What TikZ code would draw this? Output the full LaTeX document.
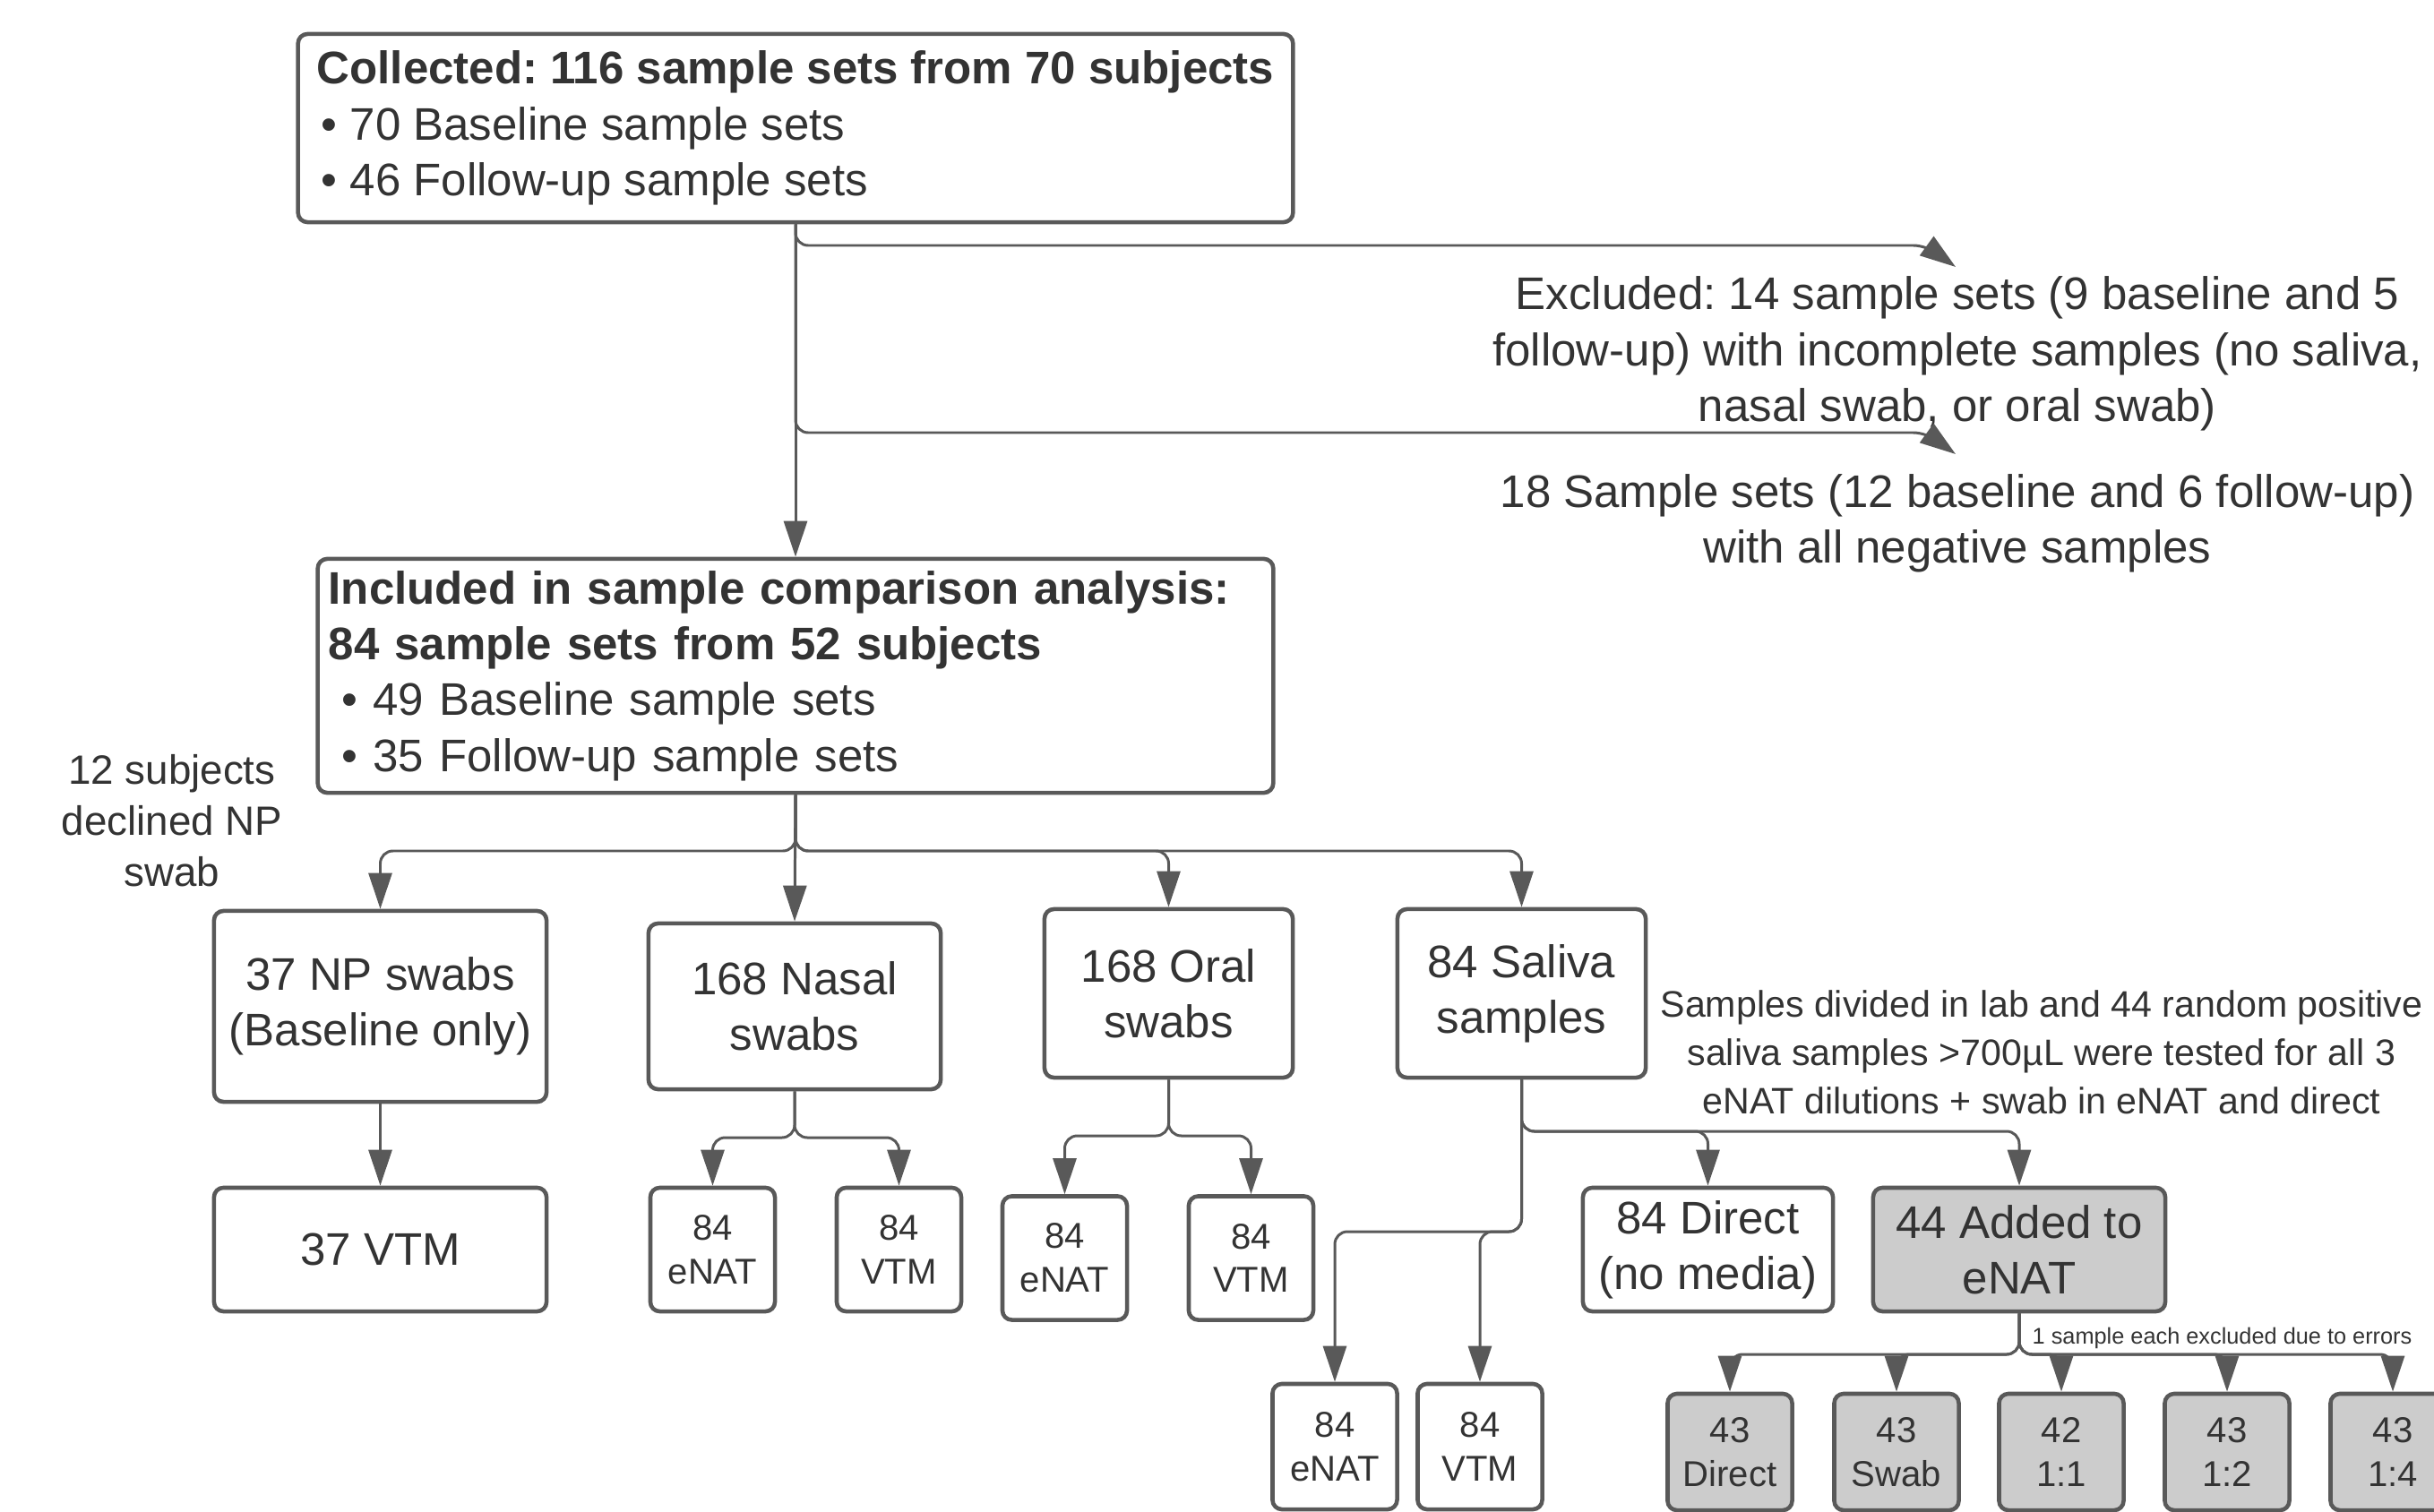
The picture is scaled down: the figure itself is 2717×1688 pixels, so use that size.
\documentclass[tikz,border=0pt]{standalone}
\usepackage{fontspec}
\setmainfont{Liberation Sans}
\usepackage{tikz}
\usetikzlibrary{positioning,arrows.meta}
\definecolor{lineg}{RGB}{89,89,89}
\definecolor{textg}{RGB}{51,51,51}
\definecolor{fillg}{RGB}{204,204,204}
\newcommand{\fmain}{\fontsize{14.5}{17.7}\selectfont}
\newcommand{\fside}{\fontsize{13}{16.2}\selectfont}
\newcommand{\fnote}{\fontsize{11.7}{15.3}\selectfont}
\newcommand{\fvial}{\fontsize{11.4}{13.9}\selectfont}
\newcommand{\ftiny}{\fontsize{7.2}{8.6}\selectfont}
\frenchspacing

\begin{document}
\begin{tikzpicture}[x=0.01cm, y=-0.01cm,
  box/.style={draw=lineg, line width=1.3pt, rounded corners=3pt, align=center,
              text=textg, inner sep=2pt, font=\fmain},
  vial/.style={box, font=\fvial, minimum width=1.39cm, minimum height=1.38cm},
  enat/.style={vial, fill=fillg, minimum height=1.30cm},
  note/.style={align=center, text=textg, inner sep=0pt},
  link/.style={draw=lineg, line width=0.85pt, rounded corners=4pt,
               -{Triangle[length=0.4cm, width=0.26cm]}}]

\useasboundingbox (0,0) rectangle (2717,1688);
\clip (0,0) rectangle (2717,1688);

% top of the flow
\node[box, align=left, minimum width=11.1cm, minimum height=2.1cm] (col) at (888,143)
  {\textbf{Collected: 116 sample sets from 70 subjects}\\
   \hspace*{0.05cm}\textbullet\ 70 Baseline sample sets\\
   \hspace*{0.05cm}\textbullet\ 46 Follow-up sample sets};
\node[note, font=\fmain] (excl) at (2185,395)
  {Excluded: 14 sample sets (9 baseline and 5\\
   follow-up) with incomplete samples (no saliva,\\
   nasal swab, or oral swab)};
\node[note, font=\fmain] (neg) at (2185,584)
  {18 Sample sets (12 baseline and 6 follow-up)\\with all negative samples};
\node[box, align=left, minimum width=10.66cm, minimum height=2.61cm, text width=10.42cm] (inc) at (888,754.5)
  {\textbf{Included in sample comparison analysis:}\\
   \textbf{84 sample sets from 52 subjects}\\
   \hspace*{0.15cm}\textbullet\ 49 Baseline sample sets\\
   \hspace*{0.15cm}\textbullet\ 35 Follow-up sample sets};
\node[note, font=\fside] (decl) at (192,916) {12 subjects\\declined NP\\swab};

% sample types
\node[box, minimum width=3.71cm, minimum height=2.13cm] (np) at (424.5,1123.5) {37 NP swabs\\(Baseline only)};
\node[box, minimum width=3.26cm, minimum height=1.85cm] (nas) at (887,1123.5) {168 Nasal\\swabs};
\node[box, minimum width=2.77cm, minimum height=1.88cm] (ora) at (1304.5,1109) {168 Oral\\swabs};
\node[box, minimum width=2.77cm, minimum height=1.88cm] (sal) at (1698.5,1109) {84 Saliva\\samples};
\node[note, font=\fnote] (div) at (2279,1175)
  {Samples divided in lab and 44 random positive\\
   saliva samples >700µL were tested for all 3\\
   eNAT dilutions + swab in eNAT and direct};

% media
\node[box, minimum width=3.71cm, minimum height=1.38cm] (npvtm) at (424.5,1395) {37 VTM};
\node[vial] (nasenat) at (795.5,1395) {84\\eNAT};
\node[vial] (nasvtm) at (1003.5,1395) {84\\VTM};
\node[vial] (oraenat) at (1188.5,1404.5) {84\\eNAT};
\node[vial] (oravtm) at (1396.5,1404.5) {84\\VTM};
\node[box, minimum width=2.79cm, minimum height=1.38cm] (dir) at (1906.5,1395) {84 Direct\\(no media)};
\node[box, fill=fillg, minimum width=3.26cm, minimum height=1.38cm] (add) at (2254,1395) {44 Added to\\eNAT};
\node[vial, minimum height=1.40cm] (salenat) at (1490,1615) {84\\eNAT};
\node[vial, minimum height=1.40cm] (salvtm) at (1652,1615) {84\\VTM};

% eNAT dilutions
\node[enat] (dil1) at (1931,1621) {43\\Direct};
\node[enat] (dil2) at (2117,1621) {43\\Swab};
\node[enat] (dil3) at (2301,1621) {42\\1:1};
\node[enat] (dil4) at (2486,1621) {43\\1:2};
\node[enat] (dil5) at (2671,1621) {43\\1:4};
\node[note, font=\ftiny, anchor=west] (err) at (2268,1494) {1 sample each excluded due to errors};

% split points
\coordinate (exK) at (2150,274);
\coordinate (exT) at (2183,298);
\coordinate (ngK) at (2150,483);
\coordinate (ngT) at (2183,507);
\coordinate (incS) at (888,950);
\coordinate (nasS) at (887,1270);
\coordinate (oraS) at (1304.5,1268);
\coordinate (salS) at (1698.5,1263);
\coordinate (salL) at (1698.5,1375);
\coordinate (addS) at (2254,1512);

\draw[link] (col.south) -- (inc.north);
\draw[link] (col.south) |- (exK) -- (exT);
\draw[link] (col.south) |- (ngK) -- (ngT);

\draw[link] (inc.south) -- (incS) -| (np.north);
\draw[link] (inc.south) -- (nas.north);
\draw[link] (inc.south) -- (incS) -| (ora.north);
\draw[link] (inc.south) -- (incS) -| (sal.north);

\draw[link] (np.south) -- (npvtm.north);
\draw[link] (nas.south) -- (nasS) -| (nasenat.north);
\draw[link] (nas.south) -- (nasS) -| (nasvtm.north);
\draw[link] (ora.south) -- (oraS) -| (oraenat.north);
\draw[link] (ora.south) -- (oraS) -| (oravtm.north);

\draw[link] (sal.south) -- (salS) -| (dir.north);
\draw[link] (sal.south) -- (salS) -| (add.north);
\draw[link] (sal.south) -- (salL) -| (salenat.north);
\draw[link] (sal.south) -- (salL) -| (salvtm.north);

\draw[link] (add.south) -- (addS) -| (dil1.north);
\draw[link] (add.south) -- (addS) -| (dil2.north);
\draw[link] (add.south) -- (addS) -| (dil3.north);
\draw[link] (add.south) -- (addS) -| (dil4.north);
\draw[link] (add.south) -- (addS) -| (dil5.north);
\end{tikzpicture}
\end{document}
